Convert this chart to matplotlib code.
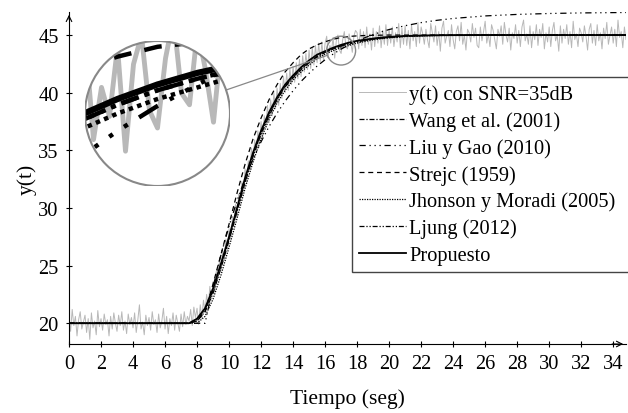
import matplotlib
matplotlib.use("Agg")
import matplotlib.pyplot as plt
from matplotlib.patches import Circle, Ellipse
from matplotlib.lines import Line2D
import numpy as np

plt.rcParams['font.family'] = ['Liberation Serif', 'DejaVu Serif']

# measured output, one row per second (dt = 0.1 s)
t_meas = [i / 10 for i in range(351)]
y_meas = [
    20.5, 19.3, 21.2, 19.8, 20.6, 18.9, 20.3, 21.0, 19.5, 20.1,
    20.7, 19.2, 20.4, 18.6, 20.9, 19.6, 20.2, 19.0, 21.1, 19.7,
    20.4, 19.4, 20.8, 19.9, 20.3, 18.9, 20.6, 19.5, 20.9, 20.0,
    19.3, 20.7, 19.8, 21.0, 19.4, 20.2, 19.1, 20.8, 19.9, 20.5,
    19.6, 20.9, 19.2, 20.3, 21.6, 19.5, 20.1, 19.0, 20.7, 19.8,
    20.5, 19.4, 21.0, 19.9, 20.3, 19.2, 20.8, 19.6, 20.2, 21.3,
    19.5, 20.6, 19.1, 20.4, 19.8, 20.9, 19.4, 20.7, 20.0, 19.3,
    20.8, 19.7, 21.0, 19.9, 20.6, 20.2, 21.2, 19.8, 21.4, 20.5,
    21.3, 19.9, 21.6, 20.4, 22.0, 21.0, 22.5, 21.4, 23.2, 22.1,
    23.6, 22.7, 24.5, 23.8, 25.4, 24.6, 26.3, 25.5, 27.3, 26.4,
    28.2, 27.3, 29.1, 28.4, 30.3, 29.2, 31.2, 30.4, 32.3, 31.5,
    33.4, 32.2, 34.1, 33.3, 35.2, 34.0, 35.9, 34.8, 36.7, 35.6,
    37.5, 36.1, 38.0, 37.0, 38.9, 37.4, 39.4, 38.0, 40.0, 38.6,
    40.4, 38.9, 40.8, 39.5, 41.4, 40.0, 41.7, 40.2, 42.1, 40.7,
    42.3, 40.9, 42.6, 41.2, 42.9, 41.4, 43.2, 41.8, 43.4, 42.0,
    43.7, 42.1, 43.9, 42.4, 44.1, 42.6, 44.3, 42.7, 44.4, 42.8,
    44.3, 44.9, 43.2, 44.1, 43.6, 44.8, 43.0, 44.5, 45.0, 43.7,
    43.4, 44.6, 45.3, 44.0, 43.8, 45.1, 44.4, 43.5, 44.9, 45.4,
    45.2, 43.8, 45.5, 44.1, 45.3, 43.9, 45.7, 44.2, 45.1, 43.7,
    45.6, 44.0, 45.3, 44.3, 45.8, 43.9, 45.4, 44.2, 45.9, 44.1,
    45.5, 44.3, 45.7, 44.0, 45.2, 44.4, 46.0, 43.9, 45.6, 44.2,
    45.8, 44.1, 45.4, 43.8, 45.9, 44.5, 45.3, 44.0, 46.1, 44.3,
    45.7, 45.1, 44.2, 45.5, 44.6, 43.9, 46.0, 45.2, 44.4, 45.8,
    44.1, 45.3, 43.6, 45.6, 46.2, 44.3, 44.9, 45.4, 44.0, 45.9,
    44.6, 43.8, 45.3, 45.8, 44.5, 46.1, 44.2, 45.0, 43.7, 45.5,
    45.2, 44.4, 46.0, 44.8, 45.6, 44.1, 43.9, 45.7, 44.5, 45.3,
    46.2, 44.3, 45.1, 44.0, 45.9, 45.4, 44.6, 43.8, 45.5, 44.9,
    45.8, 44.2, 46.1, 45.0, 44.4, 45.6, 43.7, 45.2, 44.7, 45.9,
    44.3, 45.4, 44.0, 45.7, 46.3, 44.5, 45.1, 44.2, 45.8, 43.9,
    45.3, 44.6, 45.9, 44.1, 45.5, 44.8, 46.0, 43.8, 45.2, 44.4,
    45.7, 44.0, 45.4, 46.1, 44.5, 45.0, 43.6, 45.8, 44.3, 45.5,
    44.7, 45.9, 44.2, 45.3, 43.9, 46.2, 44.6, 45.1, 44.0, 45.6,
    45.2, 44.4, 45.8, 44.9, 43.7, 45.5, 46.0, 44.3, 45.4, 44.1,
    45.9, 44.5, 45.2, 43.8, 45.6, 44.7, 46.1, 44.2, 45.0, 45.7,
    44.3, 45.5, 44.0, 46.3, 44.8, 45.3, 43.9, 45.7, 44.6, 45.2,
    45.0,
]

# model responses
t_mod = [0, 7.5, 8, 8.5, 9, 9.5, 10, 10.5, 11, 11.5, 12, 12.5, 13, 13.5, 14,
         14.5, 15, 15.5, 16, 16.5, 17, 17.5, 18, 18.5, 19, 19.5, 20, 21, 22,
         23, 24, 26, 28, 30, 32, 35]
y_wang = [20, 20, 20.2, 21.0, 22.6, 24.8, 27.2, 29.7, 32.2, 34.5, 36.4, 38.0,
          39.4, 40.5, 41.3, 42.0, 42.6, 43.1, 43.5, 43.8, 44.05, 44.25, 44.4,
          44.55, 44.65, 44.73, 44.8, 44.9, 44.95, 44.97, 44.99, 45, 45, 45, 45, 45]
y_liu = [20, 20, 20, 20, 23.17, 25.97, 28.44, 30.62, 32.55, 34.25, 35.74, 37.07,
         38.23, 39.26, 40.17, 40.98, 41.68, 42.31, 42.86, 43.35, 43.78, 44.15,
         44.49, 44.78, 45.04, 45.27, 45.48, 45.81, 46.08, 46.28, 46.44, 46.66,
         46.79, 46.87, 46.92, 46.96]
y_strejc = [20, 20, 20.2, 21.0, 23.4, 26.0, 28.6, 31.3, 33.8, 36.0, 37.8, 39.4,
            40.7, 41.8, 42.6, 43.3, 43.8, 44.15, 44.42, 44.63, 44.8, 44.88, 44.93,
            44.96, 44.98, 44.99, 45, 45, 45, 45, 45, 45, 45, 45, 45, 45]
y_jhonson = [20, 20, 20.0, 20.6, 22.1, 24.2, 26.6, 29.1, 31.7, 34.0, 36.0, 37.7,
             39.1, 40.2, 41.1, 41.8, 42.4, 42.95, 43.35, 43.65, 43.9, 44.1, 44.3,
             44.45, 44.58, 44.68, 44.75, 44.87, 44.93, 44.96, 44.98, 45, 45, 45, 45, 45]
y_ljung = [20, 20, 20.3, 21.2, 22.8, 25.0, 27.3, 29.8, 32.3, 34.6, 36.5, 38.1,
           39.45, 40.55, 41.35, 42.05, 42.65, 43.15, 43.5, 43.8, 44.05, 44.25,
           44.42, 44.55, 44.65, 44.74, 44.8, 44.9, 44.95, 44.98, 44.99, 45, 45, 45, 45, 45]
y_prop = [20, 20, 20.4, 21.3, 23.0, 25.2, 27.5, 30.0, 32.6, 34.8, 36.7, 38.3,
          39.6, 40.7, 41.5, 42.2, 42.8, 43.3, 43.6, 43.9, 44.15, 44.35, 44.5,
          44.6, 44.7, 44.78, 44.84, 44.92, 44.96, 44.98, 44.99, 45, 45, 45, 45, 45]

models = [
    ("Wang et al. (2001)", y_wang, (0, (4, 1.5, 1, 1.5))),
    ("Liu y Gao (2010)", y_liu, (0, (5, 3, 1, 3, 1, 3, 1, 3))),
    ("Strejc (1959)", y_strejc, (0, (4, 3))),
    ("Jhonson y Moradi (2005)", y_jhonson, (0, (1, 1))),
    ("Ljung (2012)", y_ljung, (0, (4, 1.5, 1, 1.5, 1, 1.5))),
]

fig = plt.figure(figsize=(6.28, 4.14), dpi=100)
ax = fig.add_axes([69 / 628, 69 / 414, 557 / 628, 332 / 414])

ax.plot(t_meas, y_meas, color="#b8b8b8", lw=0.7, label="y(t) con SNR=35dB")
for name, yy, ls in models:
    ax.plot(t_mod, yy, color="k", lw=0.9, ls=ls, label=name)
ax.plot(t_mod, y_prop, color="k", lw=1.3, label="Propuesto")

ax.set_xlim(0, 34.8)
ax.set_ylim(18.2, 47.0)
ax.set_xticks(range(0, 35, 2))
ax.set_yticks(range(20, 46, 5))
ax.tick_params(direction="inout", length=5, width=0.8, labelsize=14.7, pad=5)
for s in ["top", "right"]:
    ax.spines[s].set_visible(False)
ax.annotate("", xy=(1.0, 0), xytext=(0.97, 0), xycoords="axes fraction",
            arrowprops=dict(arrowstyle="->", lw=0.8, color="k"))
ax.annotate("", xy=(0, 1.0), xytext=(0, 0.97), xycoords="axes fraction",
            arrowprops=dict(arrowstyle="->", lw=0.8, color="k"))
ax.set_xlabel("Tiempo (seg)", fontsize=15.5, labelpad=11)
ax.set_ylabel("y(t)", fontsize=15.5, labelpad=1)

ax.legend(loc="upper left", bbox_to_anchor=(352 / 628, 1 - 270 / 414, 278 / 628, 192 / 414),
          bbox_transform=fig.transFigure, mode="expand", borderaxespad=0,
          fancybox=False, edgecolor="#444444", framealpha=1, fontsize=14.7,
          handlelength=2.3, handletextpad=0.15, labelspacing=0.35, borderpad=0.35)

# zoom circle
zc = (17.0, 43.65)
zx, zy = 14.5 / 16, 14.5 / 11.6
ax.add_patch(Ellipse(zc, 2 * zx, 2 * zy, fill=False, edgecolor="#888888", lw=1.0, zorder=5))

ax_in = fig.add_axes([85 / 628, 1 - 187 / 414, 145 / 628, 145 / 414])
ax_in.set_axis_off()
disc = Circle((0.5, 0.5), 0.5, transform=ax_in.transAxes, facecolor="white",
              edgecolor="none", zorder=0)
ax_in.add_patch(disc)
lines = [ax_in.plot(t_meas, y_meas, color="#b8b8b8", lw=3.5)[0]]
for name, yy, ls in models:
    lines.append(ax_in.plot(t_mod, yy, color="k", lw=3.2, ls=ls)[0])
lines.append(ax_in.plot(t_mod, y_prop, color="k", lw=4.5)[0])
for ln in lines:
    ln.set_clip_path(disc)
ax_in.set_autoscale_on(False)
ax_in.set_xlim(zc[0] - zx, zc[0] + zx)
ax_in.set_ylim(zc[1] - zy, zc[1] + zy)
ax_in.add_patch(Circle((0.5, 0.5), 0.5, transform=ax_in.transAxes, fill=False,
                       edgecolor="#888888", lw=1.5, zorder=10))

# connector between the two circles
p_small = ax.transData.transform(zc)
p_big = np.array([157.5, 414 - 114.5])
d = p_small - p_big
d = d / np.hypot(*d)
a = p_big + d * 72.5
b = p_small - d * 14.5
pts = fig.transFigure.inverted().transform([a, b])
fig.add_artist(Line2D(pts[:, 0], pts[:, 1], color="#888888", lw=0.9, transform=fig.transFigure))

fig.savefig("out.png", dpi=100)
